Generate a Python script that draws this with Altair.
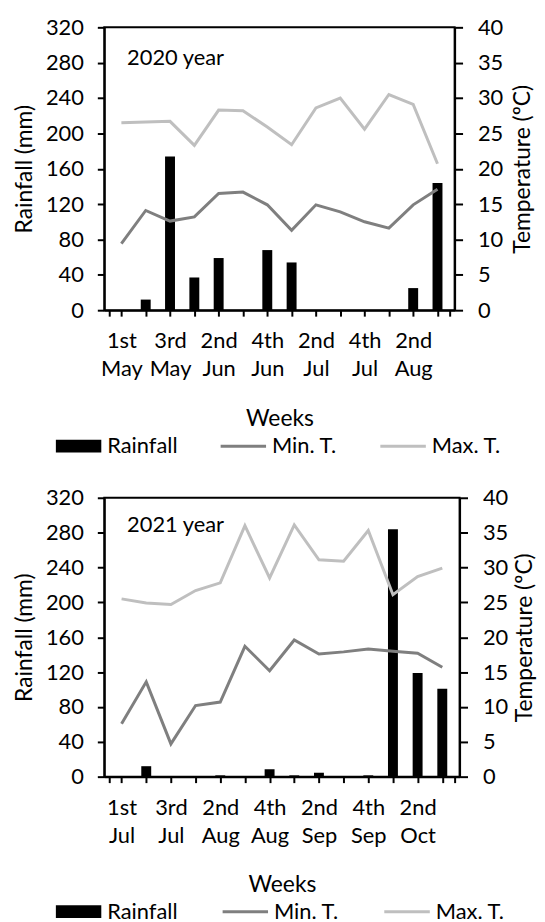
import json
import altair as alt
import pandas as pd

FONT = "Lato"

weeks_2020 = ["1st May", "2nd May", "3rd May", "1st Jun", "2nd Jun", "3rd Jun", "4th Jun",
              "1st Jul", "2nd Jul", "3rd Jul", "4th Jul", "1st Aug", "2nd Aug", "3rd Aug"]
rain_2020 = [0, 12, 174, 37, 59, 0, 68, 54, 0, 0, 0, 0, 25, 144]
min_2020 = [9.4, 14.1, 12.6, 13.2, 16.5, 16.7, 14.9, 11.3, 14.9, 13.9, 12.5, 11.6, 14.9, 17.1]
max_2020 = [26.5, 26.6, 26.7, 23.3, 28.3, 28.2, 25.9, 23.4, 28.6, 30.0, 25.6, 30.5, 29.1, 20.7]

weeks_2021 = ["1st Jul", "2nd Jul", "3rd Jul", "1st Aug", "2nd Aug", "3rd Aug", "4th Aug",
              "1st Sep", "2nd Sep", "3rd Sep", "4th Sep", "1st Oct", "2nd Oct", "3rd Oct"]
rain_2021 = [0, 12, 0, 0, 1.5, 0, 8.5, 1.5, 4.5, 0, 1.5, 284, 119, 101]
min_2021 = [7.6, 13.6, 4.7, 10.2, 10.7, 18.7, 15.2, 19.6, 17.6, 17.9, 18.3, 18.0, 17.7, 15.7]
max_2021 = [25.5, 24.9, 24.7, 26.7, 27.8, 36.0, 28.5, 36.1, 31.1, 30.9, 35.3, 26.1, 28.7, 29.9]

series_names = ["Rainfall", "Min. T.", "Max. T."]
series_colors = ["#000000", "#7f7f7f", "#bfbfbf"]
# legend swatch shapes: a thick box for rainfall, thin strokes for the lines
series_shapes = ["M-1,-0.283H1V0.283H-1Z", "M-1,-0.065H1V0.065H-1Z", "M-1,-0.065H1V0.065H-1Z"]
rain_ticks = list(range(0, 321, 40))
temp_ticks = list(range(0, 41, 5))

LABEL_SIZE = 22
TITLE_SIZE = 23


def panel(weeks, rain, tmin, tmax, title, width, height, legend_y, right_title_x,
          title_dy, col_pad):
    n = len(weeks)
    df = pd.DataFrame({"idx": list(range(n)), "week": weeks, "rain": rain,
                       "tmin": tmin, "tmax": tmax})
    arr = json.dumps(weeks)
    label_expr = ("(datum.value % 2 == 0) && datum.value >= 0 ? split(" + arr +
                  "[datum.value], ' ') : ''")
    x = alt.X("idx:Q",
              scale=alt.Scale(domain=[-0.5, n - 0.5], nice=False, zero=False),
              axis=alt.Axis(values=[-0.5] + list(range(n)) + [n - 0.5],
                            labelExpr=label_expr, title="Weeks",
                            tickSize=6, labelPadding=15, labelLineHeight=28,
                            labelAngle=0, titlePadding=28, labelFlush=False,
                            labelOverlap=False))
    bars = alt.Chart(df).mark_bar(size=10, color=series_colors[0]).encode(
        x=x,
        y=alt.Y("rain:Q", scale=alt.Scale(domain=[0, 320], nice=False),
                axis=alt.Axis(orient="left", values=rain_ticks, title="Rainfall (mm)",
                              tickSize=7, labelPadding=14, titleX=-80, titleY=height / 2,
                              titleAlign="center", titleBaseline="middle", titleAngle=270)),
    )
    temp_axis = alt.Axis(orient="right", values=temp_ticks, title="Temperature (ºC)",
                         tickSize=8, labelPadding=15, titleX=right_title_x, titleY=height / 2,
                         titleAlign="center", titleBaseline="middle", titleAngle=270)
    temp_scale = alt.Scale(domain=[0, 40], nice=False)
    min_line = alt.Chart(df).mark_line(strokeWidth=3, color=series_colors[1]).encode(
        x=x, y=alt.Y("tmin:Q", scale=temp_scale, axis=temp_axis))
    max_line = alt.Chart(df).mark_line(strokeWidth=3, color=series_colors[2]).encode(
        x=x, y=alt.Y("tmax:Q", scale=temp_scale, axis=temp_axis))
    temps = alt.layer(min_line, max_line)

    legend = alt.Legend(
        orient="none", legendX=-49, legendY=legend_y, direction="horizontal",
        columns=3, title=None, symbolSize=2116, symbolStrokeWidth=0, clipHeight=22,
        labelFontSize=LABEL_SIZE, labelFont=FONT, labelColor="black",
        labelOffset=6, columnPadding=col_pad, padding=0, symbolOpacity=1)
    key_df = pd.DataFrame({"series": series_names})
    keys = alt.Chart(key_df).mark_point(filled=True, opacity=0).encode(
        color=alt.Color("series:N", scale=alt.Scale(domain=series_names, range=series_colors),
                        legend=legend),
        shape=alt.Shape("series:N", scale=alt.Scale(domain=series_names, range=series_shapes),
                        legend=legend),
    )
    return alt.layer(bars, temps, keys).resolve_scale(y="independent").properties(
        width=width, height=height,
        title=alt.TitleParams(title, anchor="start", frame="group", dx=23, dy=title_dy,
                              fontSize=LABEL_SIZE, fontWeight="normal", font=FONT,
                              color="black", baseline="middle", offset=0),
    )


top = panel(weeks_2020, rain_2020, min_2020, max_2020, "2020 year", 353, 285, 411, 68, 64, 43)
bottom = panel(weeks_2021, rain_2021, min_2021, max_2021, "2021 year", 358, 281, 406, 65, 60, 45)

chart = alt.vconcat(top, bottom, spacing=28).resolve_scale(
    color="independent", shape="independent").resolve_legend(
    color="independent", shape="independent").properties(
    padding={"left": 5, "top": 4, "right": 0, "bottom": 0},
    background="white",
).configure_view(stroke="black", strokeWidth=2).configure_axis(
    grid=False, domainColor="black", domainWidth=2, tickColor="black", tickWidth=2,
    labelFont=FONT, labelFontSize=LABEL_SIZE, labelColor="black",
    titleFont=FONT, titleFontSize=TITLE_SIZE, titleFontWeight="normal", titleColor="black",
)

chart.save("out.html", embed_options={"renderer": "svg", "actions": False})
